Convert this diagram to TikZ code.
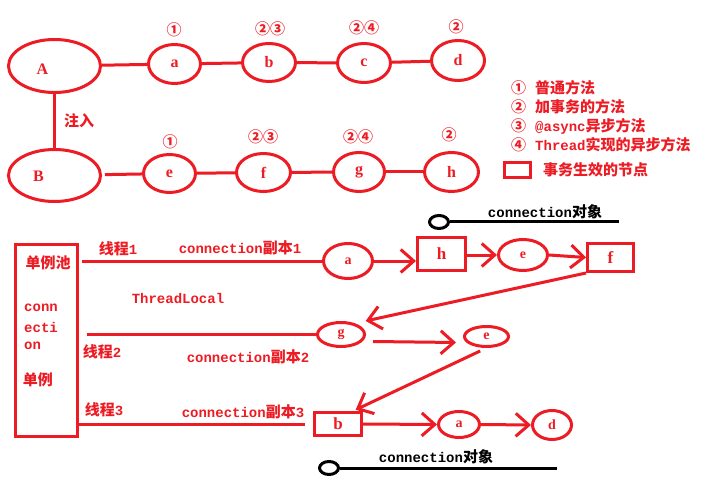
\documentclass[tikz,border=0pt]{standalone}
\usepackage{fontspec}
\setmainfont{Liberation Serif}
\setmonofont{Liberation Mono}
\newfontfamily\cjk{Noto Sans CJK SC}
\usetikzlibrary{shapes.geometric,arrows.meta}
\definecolor{pred}{RGB}{237,28,36}
\newcommand\zh[1]{{\cjk\bfseries\fontsize{15}{15}\selectfont #1}}
\newcommand\cnum[1]{{\cjk\bfseries\fontsize{15}{15}\selectfont #1}}
\tikzset{
  rl/.style={draw=pred,line width=3pt},
  bl/.style={draw=black,line width=3pt},
  arr/.style={draw=pred,line width=3pt,arrows={-Straight Barb[length=13pt,width=23pt]}},
  ell/.style={ellipse,draw=pred,line width=3pt,inner sep=0pt,text=pred,font=\bfseries\fontsize{16}{16}\selectfont},
  sell/.style={ell,font=\bfseries\fontsize{14}{14}\selectfont},
  rbox/.style={rectangle,draw=pred,line width=3pt,inner sep=0pt,text=pred,font=\bfseries\fontsize{17}{17}\selectfont},
  dot/.style={ellipse,draw=black,line width=3pt,inner sep=0pt,minimum width=19pt,minimum height=13pt},
  txt/.style={text=pred,inner sep=0pt},
  zhtxt/.style={txt,font=\cjk\bfseries\fontsize{15}{15}\selectfont},
  mtxt/.style={txt,font=\ttfamily\bfseries\fontsize{14}{14}\selectfont},
  num/.style={txt,font=\cjk\bfseries\fontsize{15}{15}\selectfont},
}
\begin{document}
\begin{tikzpicture}[x=1pt,y=-1pt]
\useasboundingbox[fill=white] (0,0) rectangle (712,481);

% ---- top graph ----
\node[ell,minimum width=92pt,minimum height=53pt,label={[txt,font=\bfseries\fontsize{16}{16}\selectfont,xshift=-12pt,yshift=-3pt]center:A}] (A) at (54.5,66) {};
\node[ell,minimum width=52pt,minimum height=39pt] (a) at (174.5,64) {a};
\node[ell,minimum width=53pt,minimum height=38pt] (b) at (269,62.5) {b};
\node[ell,minimum width=53pt,minimum height=39pt] (c) at (364,63) {c};
\node[ell,minimum width=53pt,minimum height=40pt] (d) at (458,60.5) {d};
\node[ell,minimum width=92pt,minimum height=52pt,label={[txt,font=\bfseries\fontsize{16}{16}\selectfont,xshift=-16pt,yshift=-1pt]center:B}] (B) at (54.5,175.5) {};
\node[ell,minimum width=52pt,minimum height=38pt] (e) at (169.5,173.5) {e};
\node[ell,minimum width=54pt,minimum height=38pt] (f) at (263.5,172.5) {f};
\node[ell,minimum width=51pt,minimum height=39pt] (g) at (359,172) {g};
\node[ell,minimum width=54pt,minimum height=39pt] (h) at (451.5,172) {h};

\draw[rl] (A) -- (a);
\draw[rl] (a) -- (b);
\draw[rl] (b) -- (c);
\draw[rl] (c) -- (d);
\draw[rl] (A.south) -- (B.north);
\draw[rl,shorten <=3pt] (B) -- (e);
\draw[rl] (e) -- (f);
\draw[rl] (f) -- (g);
\draw[rl] (g) -- (h);

\node[zhtxt] (inj) at (79,121) {注入};

\node[num] (na) at (174,30) {①};
\node[num] (nb) at (270,29) {②③};
\node[num] (nc) at (364,28) {②④};
\node[num] (nd) at (456,27) {②};
\node[num] (ne) at (170,142) {①};
\node[num] (nf) at (263,137) {②③};
\node[num] (ng) at (358,137) {②④};
\node[num] (nh) at (449,135) {②};

% ---- legend ----
\node[txt,anchor=west] (l1) at (511,88) {\cnum{①}\hspace{9pt}\zh{普通方法}};
\node[txt,anchor=west] (l2) at (511,107) {\cnum{②}\hspace{9pt}\zh{加事务的方法}};
\node[txt,anchor=west] (l3) at (511,126) {\cnum{③}\hspace{9pt}{\ttfamily\bfseries\fontsize{14}{14}\selectfont @async}\zh{异步方法}};
\node[txt,anchor=west] (l4) at (511,145) {\cnum{④}\hspace{9pt}{\ttfamily\bfseries\fontsize{14}{14}\selectfont Thread}\zh{实现的异步方法}};
\node[rbox,minimum width=26pt,minimum height=15pt] (lbox) at (517.5,170) {};
\node[txt,anchor=west] (l5) at (543,170) {\zh{事务生效的节点}};

% ---- bottom ----
\node[rbox,minimum width=62pt,minimum height=192pt] (pool) at (46.5,340.5) {};
\node[zhtxt] (p1) at (48,263) {单例池};
\node[mtxt,anchor=west] (p2) at (24,308) {conn};
\node[mtxt,anchor=west] (p3) at (24,327) {ecti};
\node[mtxt,anchor=west] (p4) at (24,346) {on};
\node[zhtxt] (p5) at (38,380) {单例};

\node[sell,minimum width=49pt,minimum height=35pt] (a2) at (348,261) {a};
\node[rbox,minimum width=48pt,minimum height=33pt] (h2) at (441.5,254) {h};
\node[sell,minimum width=49pt,minimum height=31pt] (e2) at (523,255) {e};
\node[rbox,minimum width=46pt,minimum height=28pt] (f2) at (610.5,257.5) {f};
\node[sell,minimum width=47pt,minimum height=24pt] (g2) at (341,334.5) {g};
\node[sell,minimum width=44pt,minimum height=20pt] (e3) at (486.5,336.5) {e};
\node[rbox,minimum width=47pt,minimum height=23pt] (b2) at (338,424) {b};
\node[sell,minimum width=41pt,minimum height=26pt] (a3) at (459,424.5) {a};
\node[sell,minimum width=39pt,minimum height=29pt] (d3) at (552,425) {d};

% thread lines
\draw[rl,shorten <=3pt] (pool.east |- a2.west) -- (a2.west);
\draw[rl,shorten <=8pt] (pool.east |- g2.west) -- (g2.west);
\draw[rl,shorten >=8pt] (pool.east |- b2.west) -- (b2.west);

\node[mtxt] (t1) at (118,249) {\zh{线程}1};
\node[mtxt] (t2) at (102,352) {\zh{线程}2};
\node[mtxt] (t3) at (104,410) {\zh{线程}3};
\node[mtxt] (c1) at (240,248) {connection\zh{副本}1};
\node[mtxt] (c2) at (248,357) {connection\zh{副本}2};
\node[mtxt] (c3) at (243,412) {connection\zh{副本}3};
\node[mtxt] (tl) at (178,298) {ThreadLocal};

% arrows
\draw[arr] (a2.east) -- (a2.east -| h2.west);
\draw[arr] (h2.east |- e2.west) -- (e2.west);
\draw[arr] (e2.east) -- (f2.west);
\draw[arr] (f2.south west) -- ([xshift=7pt,yshift=4pt]g2.north east);
\draw[arr] ([xshift=7pt,yshift=-7pt]g2.east) -- ([xshift=-7pt,yshift=-6pt]e3.west);
\draw[arr,shorten <=7pt,shorten >=3pt] (e3.south) -- ([xshift=15pt]b2.north);
\draw[arr] (b2.east) -- (a3.west);
\draw[arr] (a3.east) -- (d3.west);

% connection objects
\node[dot] (o1) at (439,222) {};
\coordinate (o1e) at (619,222);
\draw[bl] (o1.east) -- (o1e);
\node[mtxt,text=black] (o1t) at (545,212) {connection\zh{对象}};

\node[dot] (o2) at (329,468) {};
\coordinate (o2e) at (557,468);
\draw[bl] (o2.east) -- (o2e);
\node[mtxt,text=black] (o2t) at (436,457) {connection\zh{对象}};
\end{tikzpicture}
\end{document}
